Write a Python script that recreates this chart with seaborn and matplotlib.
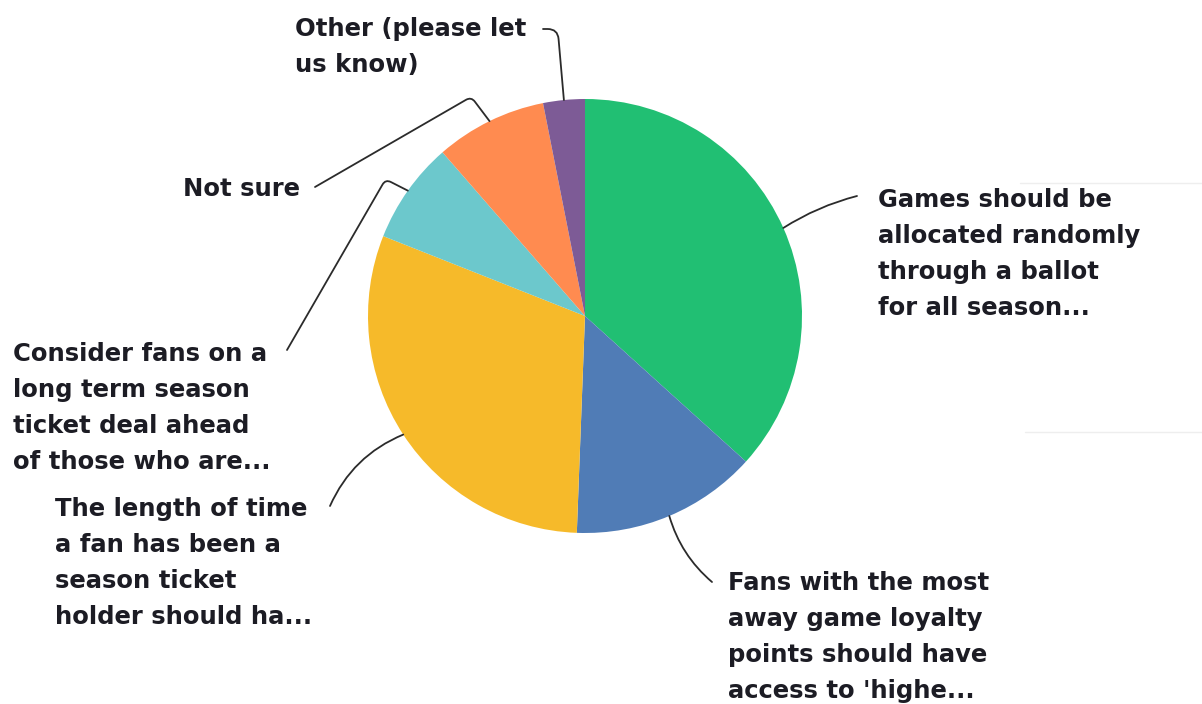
import numpy as np
import matplotlib
matplotlib.use("Agg")
import matplotlib.pyplot as plt
import seaborn as sns

# DATA (shares, clockwise from 12 o'clock)
labels = [
    "Games should be\nallocated randomly\nthrough a ballot\nfor all season...",
    "Fans with the most\naway game loyalty\npoints should have\naccess to 'highe...",
    "The length of time\na fan has been a\nseason ticket\nholder should ha...",
    "Consider fans on a\nlong term season\nticket deal ahead\nof those who are...",
    "Not sure",
    "Other (please let\nus know)",
]
shares = [36.7, 13.9, 30.4, 7.6, 8.3, 3.1]
colors = ["#21BF73", "#507CB6", "#F6BA2A", "#6CC8CC", "#FF8B50", "#7D5B96"]

# label layout in pixels: text x, first baseline y, leader end x, leader end y, connection
label_pos = [
    (878, 207, 857, 196, "arc3,rad=0.08"),
    (728, 590, 712, 582, "arc3,rad=-0.15"),
    (55, 516, 330, 506, "arc3,rad=-0.2"),
    (13, 361, 287, 350, "angle,angleA=60,angleB=153,rad=6"),
    (183, 196, 315, 187, "angle,angleA=30,angleB=127,rad=6"),
    (295, 36, 543, 29, "angle,angleA=0,angleB=95,rad=10"),
]

W, H = 1202, 704
CX, CY, R = 585, 316, 217

sns.set_theme(style="white")
plt.rcParams["font.family"] = ["DejaVu Sans"]

fig = plt.figure(figsize=(W / 100, H / 100), dpi=100)
ax = fig.add_axes([0, 0, 1, 1])

wedges, _ = ax.pie(shares, colors=colors, startangle=90, counterclock=False,
                   center=(CX, H - CY), radius=R, frame=True,
                   wedgeprops=dict(linewidth=0))
ax.set_xlim(0, W)
ax.set_ylim(0, H)
ax.axis("off")

for w, lab, (tx, ty, ex, ey, conn) in zip(wedges, labels, label_pos):
    mid = np.radians((w.theta1 + w.theta2) / 2)
    anchor = (CX + R * np.cos(mid), H - CY + R * np.sin(mid))
    ax.annotate("", xy=anchor, xytext=(ex, H - ey),
                arrowprops=dict(arrowstyle="-", color="#2b2b2b", lw=1.3,
                                shrinkA=0, shrinkB=0, connectionstyle=conn))
    # top of the text box sits about 19 px above the first baseline
    ax.text(tx, H - (ty - 19), lab, ha="left", va="top", fontsize=17.5,
            fontweight="bold", color="#1c1c24", linespacing=1.63)

# faint divider lines on the right edge
ax.plot([1020, W], [H - 183, H - 183], color="#eeeeee", lw=1)
ax.plot([1025, W], [H - 432, H - 432], color="#eeeeee", lw=1)

fig.savefig("out.png", dpi=100)
